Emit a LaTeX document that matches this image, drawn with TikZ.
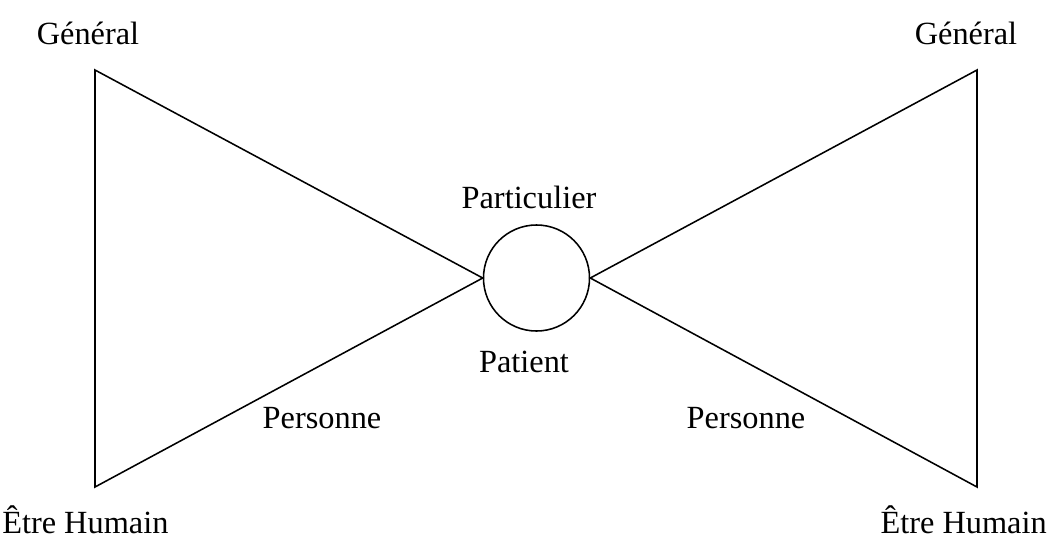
\documentclass[tikz,border=0pt]{standalone}
\usepackage{fontspec}
\setmainfont{Liberation Serif}
\usetikzlibrary{calc,positioning}
\tikzset{
        label/.style = {inner sep=0pt, font=\fontsize{23}{27}\selectfont},
        knot/.style = {draw, circle, line width=1.1pt, minimum size=2.65cm, inner sep=0pt},
        side/.style = {draw, line width=1.1pt, line join=miter},
    }

\begin{document}
\begin{tikzpicture}[x=0.025cm,y=-0.025cm]
    \useasboundingbox (0,0) rectangle (1053,542);

    \node[knot] at (536.5,278) (part) {};
    \coordinate (genL) at (95,70);
    \coordinate (humL) at (95,487);
    \coordinate (genR) at (977,70);
    \coordinate (humR) at (977,487);

    \draw[side] (genL) -- (humL) -- (part.west) -- cycle;
    \draw[side] (genR) -- (humR) -- (part.east) -- cycle;

    \node[label] at (88,33) (tGenL) {Général};
    \node[label] at (966,33) (tGenR) {Général};
    \node[label] at (529,197) (tPart) {Particulier};
    \node[label] at (524,362) (tPat) {Patient};
    \node[label] at (322,418) (tPersL) {Personne};
    \node[label] at (746,418) (tPersR) {Personne};
    \node[label, anchor=base west] at (2,533) (tHumL) {Être Humain};
    \node[label, anchor=base east] at (1047,533) (tHumR) {Être Humain};
\end{tikzpicture}
\end{document}
